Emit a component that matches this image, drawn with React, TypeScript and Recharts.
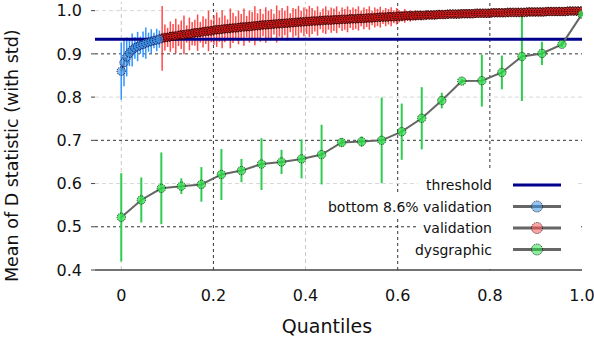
import { ComposedChart, Scatter, XAxis, YAxis, ErrorBar, ReferenceLine } from 'recharts'

// validation set sorted by D statistic, first 8.6% shown separately
const totalValidation = 170

const bottomMeans = [0.860, 0.880, 0.893, 0.902, 0.909, 0.914, 0.917, 0.920, 0.922, 0.925, 0.927, 0.929, 0.931, 0.932, 0.934]
const bottomStds = [0.066, 0.055, 0.045, 0.030, 0.038, 0.025, 0.034, 0.020, 0.030, 0.036, 0.022, 0.028, 0.018, 0.026, 0.020]

const validationMeans = [
  0.936, 0.938, 0.938, 0.940, 0.941, 0.941, 0.943, 0.944, 0.944, 0.946, 0.946, 0.947, 0.949, 0.949, 0.950, 0.951, 0.952, 0.953, 0.953, 0.955,
  0.956, 0.956, 0.957, 0.958, 0.958, 0.959, 0.960, 0.960, 0.961, 0.962, 0.962, 0.963, 0.963, 0.964, 0.965, 0.965, 0.966,
  0.967, 0.967, 0.968, 0.968, 0.969, 0.969, 0.970, 0.970, 0.971, 0.971, 0.972, 0.972, 0.973, 0.973, 0.974, 0.974, 0.975, 0.975,
  0.976, 0.976, 0.976, 0.977, 0.977, 0.978, 0.978, 0.978, 0.979, 0.979, 0.979, 0.980, 0.980, 0.980, 0.981, 0.981,
  0.981, 0.982, 0.982, 0.982, 0.983, 0.983, 0.983, 0.984, 0.984, 0.985, 0.985, 0.985, 0.986, 0.986, 0.986, 0.987,
  0.987, 0.987, 0.988, 0.988, 0.988, 0.988, 0.989, 0.989, 0.989, 0.989, 0.990, 0.990, 0.990, 0.990, 0.991, 0.991, 0.991,
  0.991, 0.992, 0.992, 0.992, 0.992, 0.992, 0.993, 0.993, 0.993, 0.993, 0.993, 0.994, 0.994, 0.994, 0.994, 0.994, 0.994,
  0.995, 0.995, 0.995, 0.995, 0.995, 0.995, 0.996, 0.996, 0.996, 0.996, 0.996, 0.996, 0.996, 0.997, 0.997, 0.997, 0.997,
  0.997, 0.997, 0.997, 0.998, 0.998, 0.998, 0.998, 0.998, 0.998, 0.998, 0.998, 0.999, 0.999, 0.999, 0.999, 0.999, 0.999,
]
const validationStds = [
  0.075, 0.030, 0.022, 0.035, 0.028, 0.040, 0.025, 0.033, 0.045, 0.020, 0.038, 0.027, 0.030, 0.042, 0.024, 0.036, 0.029, 0.047, 0.026, 0.034,
  0.040, 0.028, 0.044, 0.031, 0.022, 0.046, 0.035, 0.027, 0.039, 0.030, 0.043, 0.025, 0.037, 0.033, 0.045, 0.029, 0.038,
  0.026, 0.041, 0.032, 0.035, 0.024, 0.043, 0.030, 0.036, 0.028, 0.040, 0.022, 0.034, 0.031, 0.038, 0.025, 0.033, 0.029, 0.036,
  0.030, 0.024, 0.034, 0.020, 0.028, 0.032, 0.022, 0.029, 0.026, 0.031, 0.019, 0.027, 0.024, 0.030, 0.021, 0.026,
  0.023, 0.028, 0.018, 0.025, 0.021, 0.027, 0.017, 0.023, 0.020, 0.024, 0.016, 0.021, 0.018, 0.022, 0.015, 0.019,
  0.014, 0.012, 0.016, 0.011, 0.013, 0.010, 0.012, 0.009, 0.011, 0.008, 0.010, 0.009, 0.008, 0.010, 0.007, 0.008, 0.007,
  0.006, 0.007, 0.005, 0.006, 0.005, 0.004, 0.005, 0.004, 0.004, 0.003, 0.004, 0.003, 0.003, 0.004, 0.003, 0.003, 0.002,
  0.003, 0.002, 0.003, 0.002, 0.002, 0.003, 0.002, 0.002, 0.002, 0.003, 0.002, 0.002, 0.002, 0.002, 0.002, 0.002, 0.002,
  0.002, 0.002, 0.001, 0.002, 0.001, 0.002, 0.001, 0.001, 0.002, 0.001, 0.001, 0.001, 0.001, 0.001, 0.001, 0.001, 0.001,
]

const dysMeans = [0.522, 0.562, 0.589, 0.594, 0.598, 0.621, 0.630, 0.645, 0.650, 0.657, 0.667, 0.695, 0.697, 0.700, 0.720, 0.751, 0.792, 0.837, 0.838, 0.857, 0.894, 0.901, 0.922, 0.992]
const dysStds = [0.102, 0.052, 0.083, 0.018, 0.040, 0.059, 0.027, 0.060, 0.028, 0.045, 0.069, 0.010, 0.012, 0.099, 0.065, 0.072, 0.018, 0.005, 0.060, 0.039, 0.103, 0.027, 0.006, 0.005]

const threshold = 0.934

const xTicks = [0, 0.2, 0.4, 0.6, 0.8, 1.0]
const yTicks = [0.4, 0.5, 0.6, 0.7, 0.8, 0.9, 1.0]
const lightGridX = [0, 0.4]
const darkGridX = [0.2, 0.6, 0.8]
const lightGridY = [1.0, 0.8, 0.6]
const darkGridY = [0.9, 0.7, 0.5]

const bottomData = bottomMeans.map((m, i) => ({ x: i / (totalValidation - 1), mean: m, std: bottomStds[i] }))
const validationData = validationMeans.map((m, j) => ({
  x: (bottomMeans.length + j) / (totalValidation - 1),
  mean: m,
  std: validationStds[j],
}))
const dysData = dysMeans.map((m, i) => ({ x: i / (dysMeans.length - 1), mean: m, std: dysStds[i] }))

const font = '"DejaVu Sans", sans-serif'

const marker = (fill: string, opacity: number, edge: string, edgeWidth: number) => (props: any) => (
  <circle
    cx={props.cx}
    cy={props.cy}
    r={4.2}
    fill={fill}
    fillOpacity={opacity}
    stroke={edge}
    strokeWidth={edgeWidth}
    strokeDasharray="1 1"
  />
)

const legendRows = [
  { label: 'threshold', line: '#00008b', fill: null },
  { label: 'bottom 8.6% validation', line: '#666', fill: '#3d95e8' },
  { label: 'validation', line: '#666', fill: '#ff5a5a' },
  { label: 'dysgraphic', line: '#666', fill: '#2ee04a' },
]

function Legend() {
  const rowY = [185, 206.5, 228, 249.5]
  return (
    <g>
      <rect x={418} y={171} width={160} height={24} fill="#fff" />
      <rect x={320} y={195} width={258} height={22} fill="#fff" />
      <rect x={418} y={217} width={160} height={22} fill="#fff" />
      <rect x={418} y={239} width={160} height={30} fill="#fff" />
      {legendRows.map((r, i) => (
        <g key={r.label}>
          <text x={492} y={rowY[i]} textAnchor="end" dominantBaseline="central" fontSize={14} fill="#111" fontFamily={font}>
            {r.label}
          </text>
          <line x1={513} x2={561} y1={rowY[i]} y2={rowY[i]} stroke={r.line} strokeWidth={3} />
          {r.fill && (
            <circle cx={537} cy={rowY[i]} r={5.5} fill={r.fill} fillOpacity={0.55} stroke="#000" strokeWidth={0.8} strokeDasharray="1 1" />
          )}
        </g>
      ))}
    </g>
  )
}

export default function App() {
  return (
    <div style={{ position: 'absolute', left: 0, top: 0, width: 594, height: 342, background: '#fff', fontFamily: font }}>
      <ComposedChart width={594} height={342} margin={{ top: 2, right: 12, left: 0, bottom: 0 }}>
        <XAxis
          type="number"
          dataKey="x"
          domain={[-0.057, 1.0]}
          ticks={xTicks}
          allowDataOverflow
          tickFormatter={(v: number) => (v === 0 ? '0' : v.toFixed(1))}
          tick={{ fontSize: 16, fill: '#111', fontFamily: font }}
          tickLine={false}
          tickSize={6}
          tickMargin={14}
          axisLine={{ stroke: '#444', strokeWidth: 1.5 }}
          height={72}
        />
        <YAxis
          type="number"
          dataKey="mean"
          domain={[0.4, 1.02]}
          ticks={yTicks}
          allowDataOverflow
          tickFormatter={(v: number) => v.toFixed(1)}
          tick={{ fontSize: 16, fill: '#111', fontFamily: font }}
          tickLine={{ stroke: '#444' }}
          tickSize={4}
          tickMargin={9}
          axisLine={false}
          width={95}
        />
        {lightGridX.map((v) => (
          <ReferenceLine key={'lx' + v} x={v} stroke="#c8c8c8" strokeDasharray="4 3" />
        ))}
        {darkGridX.map((v) => (
          <ReferenceLine key={'dx' + v} x={v} stroke="#333" strokeDasharray="3 3" />
        ))}
        {lightGridY.map((v) => (
          <ReferenceLine key={'ly' + v} y={v} stroke="#d8d8d8" strokeDasharray="4 3" />
        ))}
        {darkGridY.map((v) => (
          <ReferenceLine key={'dy' + v} y={v} stroke="#333" strokeDasharray="3 3" />
        ))}
        <Scatter
          data={validationData}
          dataKey="mean"
          isAnimationActive={false}
          line={{ stroke: '#666', strokeWidth: 2 }}
          lineType="joint"
          shape={marker('#d01010', 0.55, '#2a0000', 1.2)}
        >
          <ErrorBar dataKey="std" direction="y" width={0} stroke="#ff2a2a" strokeOpacity={0.85} strokeWidth={1.5} isAnimationActive={false} />
        </Scatter>
        <Scatter
          data={bottomData}
          dataKey="mean"
          isAnimationActive={false}
          line={{ stroke: '#666', strokeWidth: 2 }}
          lineType="joint"
          shape={marker('#3d95e8', 0.6, '#000040', 1)}
        >
          <ErrorBar dataKey="std" direction="y" width={0} stroke="#3394ff" strokeWidth={1.5} isAnimationActive={false} />
        </Scatter>
        <Scatter
          data={dysData}
          dataKey="mean"
          isAnimationActive={false}
          line={{ stroke: '#666', strokeWidth: 2 }}
          lineType="joint"
          shape={marker('#2ee04a', 0.75, '#000', 0.8)}
        >
          <ErrorBar dataKey="std" direction="y" width={0} stroke="#2ecc50" strokeWidth={2} isAnimationActive={false} />
        </Scatter>
        <ReferenceLine y={threshold} stroke="#00008b" strokeWidth={3} />
      </ComposedChart>
      <svg width={594} height={342} style={{ position: 'absolute', left: 0, top: 0, pointerEvents: 'none' }}>
        <Legend />
        <text x={327} y={333} textAnchor="middle" fontSize={19} fill="#111" fontFamily={font}>
          Quantiles
        </text>
        <text x={18} y={282} transform="rotate(-90 18 282)" textAnchor="start" fontSize={17.5} fill="#111" fontFamily={font}>
          Mean of D statistic (with std)
        </text>
      </svg>
    </div>
  )
}
